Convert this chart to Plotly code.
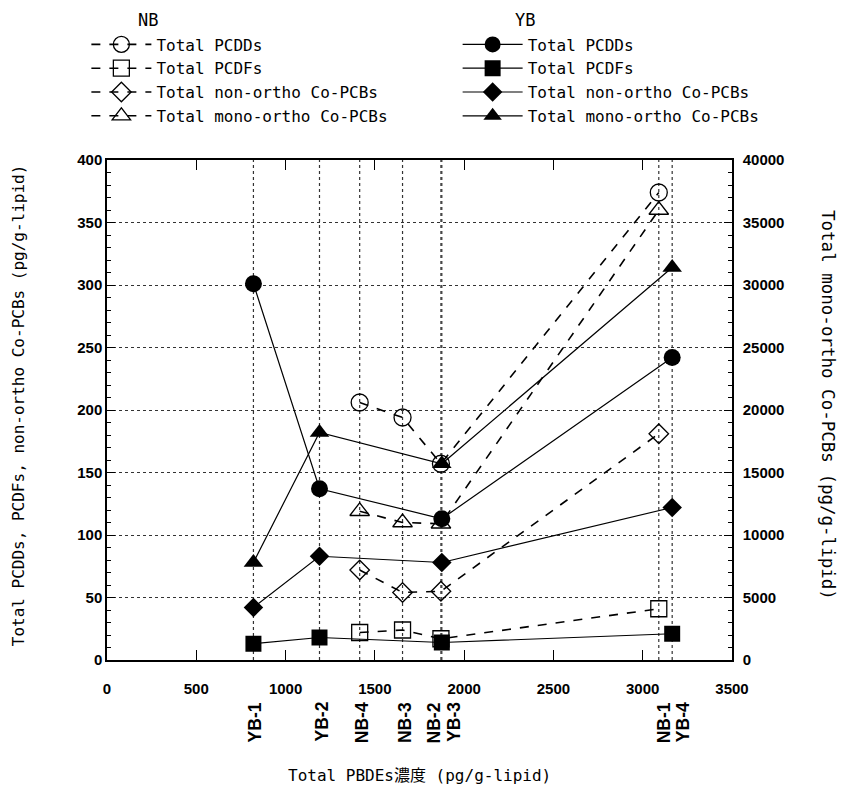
import plotly.graph_objects as go

# ---- data ----
yb_names = ["YB-1", "YB-2", "YB-3", "YB-4"]
yb_x = [820, 1190, 1875, 3165]
yb_pcdds = [301, 137, 113, 242]
yb_pcdfs = [13, 18, 14, 21]
yb_nonortho = [42, 83, 78, 122]
yb_monoortho = [7800, 18200, 15700, 31400]

nb_names = ["NB-4", "NB-3", "NB-2", "NB-1"]
nb_x = [1415, 1655, 1870, 3090]
nb_pcdds = [206, 194, 157, 374]
nb_pcdfs = [22, 24, 17, 41]
nb_nonortho = [72, 54, 55, 181]
nb_monoortho = [11900, 11000, 10900, 36000]

series_labels = ["Total PCDDs", "Total PCDFs", "Total non-ortho Co-PCBs", "Total mono-ortho Co-PCBs"]

# label offsets for overlapping sample labels (pixels)
label_shift = {"NB-2": -9, "YB-3": 10, "NB-1": 3, "YB-4": 9}

MONO = "DejaVu Sans Mono, Noto Sans CJK JP"
BOLD = "Liberation Sans, Arial"

fig = go.Figure()

nb_vals = [nb_pcdds, nb_pcdfs, nb_nonortho, nb_monoortho]
yb_vals = [yb_pcdds, yb_pcdfs, yb_nonortho, yb_monoortho]
open_sym = ["circle-open", "square-open", "diamond-open", "triangle-up-open"]
fill_sym = ["circle", "square", "diamond", "triangle-up"]
sizes = [17, 16, 15, 17]

for i in range(4):
    fig.add_trace(go.Scatter(
        x=nb_x, y=nb_vals[i], name=series_labels[i], mode="lines+markers",
        yaxis="y2" if i == 3 else "y",
        line=dict(color="black", width=1.6, dash="dash"),
        marker=dict(symbol=open_sym[i], size=sizes[i], color="black", line=dict(width=1.3, color="black")),
        legend="legend", legendrank=i,
    ))
for i in range(4):
    fig.add_trace(go.Scatter(
        x=yb_x, y=yb_vals[i], name=series_labels[i], mode="lines+markers",
        yaxis="y2" if i == 3 else "y",
        line=dict(color="black", width=1.2),
        marker=dict(symbol=fill_sym[i], size=sizes[i], color="black"),
        legend="legend2", legendrank=i,
    ))

# vertical dotted lines at sample positions
for xv in sorted(set(yb_x + nb_x)):
    fig.add_shape(type="line", xref="x", yref="paper", x0=xv, x1=xv, y0=0, y1=1,
                  line=dict(color="#333", width=1.2, dash="dot"), layer="below")

# sample labels
for nm, xv in list(zip(yb_names, yb_x)) + list(zip(nb_names, nb_x)):
    fig.add_annotation(x=xv, y=-0.08, xref="x", yref="paper", text=nm, textangle=-90,
                       showarrow=False, xanchor="center", yanchor="top",
                       xshift=label_shift.get(nm, 0) + 2,
                       font=dict(family=BOLD, size=17.5, color="black", weight="bold"))

# titles
fig.add_annotation(x=0.5, y=-0.23, xref="paper", yref="paper", text="Total PBDEs濃度 (pg/g-lipid)",
                   showarrow=False, xanchor="center", yanchor="middle",
                   font=dict(family=MONO, size=16, color="black"))
fig.add_annotation(x=-0.142, y=0.51, xref="paper", yref="paper",
                   text="Total PCDDs, PCDFs, non-ortho Co-PCBs (pg/g-lipid)", textangle=-90,
                   showarrow=False, xanchor="center", yanchor="middle",
                   font=dict(family=MONO, size=16, color="black"))
fig.add_annotation(x=1.1536, y=0.51, xref="paper", yref="paper",
                   text="Total mono-ortho Co-PCBs (pg/g-lipid)", textangle=90,
                   showarrow=False, xanchor="center", yanchor="middle",
                   font=dict(family=MONO, size=17.5, color="black"))
fig.add_annotation(x=0.0656, y=1.28, xref="paper", yref="paper", text="NB", showarrow=False,
                   xanchor="center", yanchor="middle",
                   font=dict(family=MONO, size=17, color="black"))
fig.add_annotation(x=0.669, y=1.28, xref="paper", yref="paper", text="YB", showarrow=False,
                   xanchor="center", yanchor="middle",
                   font=dict(family=MONO, size=17, color="black"))

tickfont = dict(family=BOLD, size=15, color="black", weight="bold")

fig.update_layout(
    width=837, height=779, autosize=False,
    margin=dict(l=99, r=113, t=152, b=127),
    paper_bgcolor="white", plot_bgcolor="white",
    xaxis=dict(range=[0, 3500], dtick=500, tick0=0, ticks="inside", ticklen=10, tickwidth=1.2,
               tickcolor="black", showline=True, linecolor="black", linewidth=1.5, mirror="ticks",
               showgrid=False, zeroline=False, ticklabelstandoff=14, tickfont=tickfont),
    yaxis=dict(range=[0, 400], dtick=50, ticks="inside", ticklen=8, tickwidth=1.2, tickcolor="black",
               showline=True, linecolor="black", linewidth=1.5, mirror=True,
               showgrid=True, gridcolor="#333", griddash="dot", gridwidth=1.2, zeroline=False,
               minor=dict(dtick=10, ticks="inside", ticklen=4, tickcolor="black", showgrid=False),
               tickfont=tickfont),
    yaxis2=dict(range=[0, 40000], dtick=5000, overlaying="y", side="right", ticks="inside", ticklen=8,
                tickwidth=1.2, tickcolor="black", showline=True, linecolor="black", linewidth=1.5,
                showgrid=False, zeroline=False, tickformat="d", ticklabelstandoff=6,
                minor=dict(dtick=1000, ticks="inside", ticklen=4, tickcolor="black", showgrid=False),
                tickfont=tickfont),
    legend=dict(x=-0.033, y=1.265, xanchor="left", yanchor="top", bgcolor="rgba(0,0,0,0)",
                font=dict(family=MONO, size=16, color="black"), itemwidth=60, tracegroupgap=0,
                traceorder="normal"),
    legend2=dict(x=0.561, y=1.265, xanchor="left", yanchor="top", bgcolor="rgba(0,0,0,0)",
                 font=dict(family=MONO, size=16, color="black"), itemwidth=60, tracegroupgap=0,
                 traceorder="normal"),
)

fig.write_html("out.html")
